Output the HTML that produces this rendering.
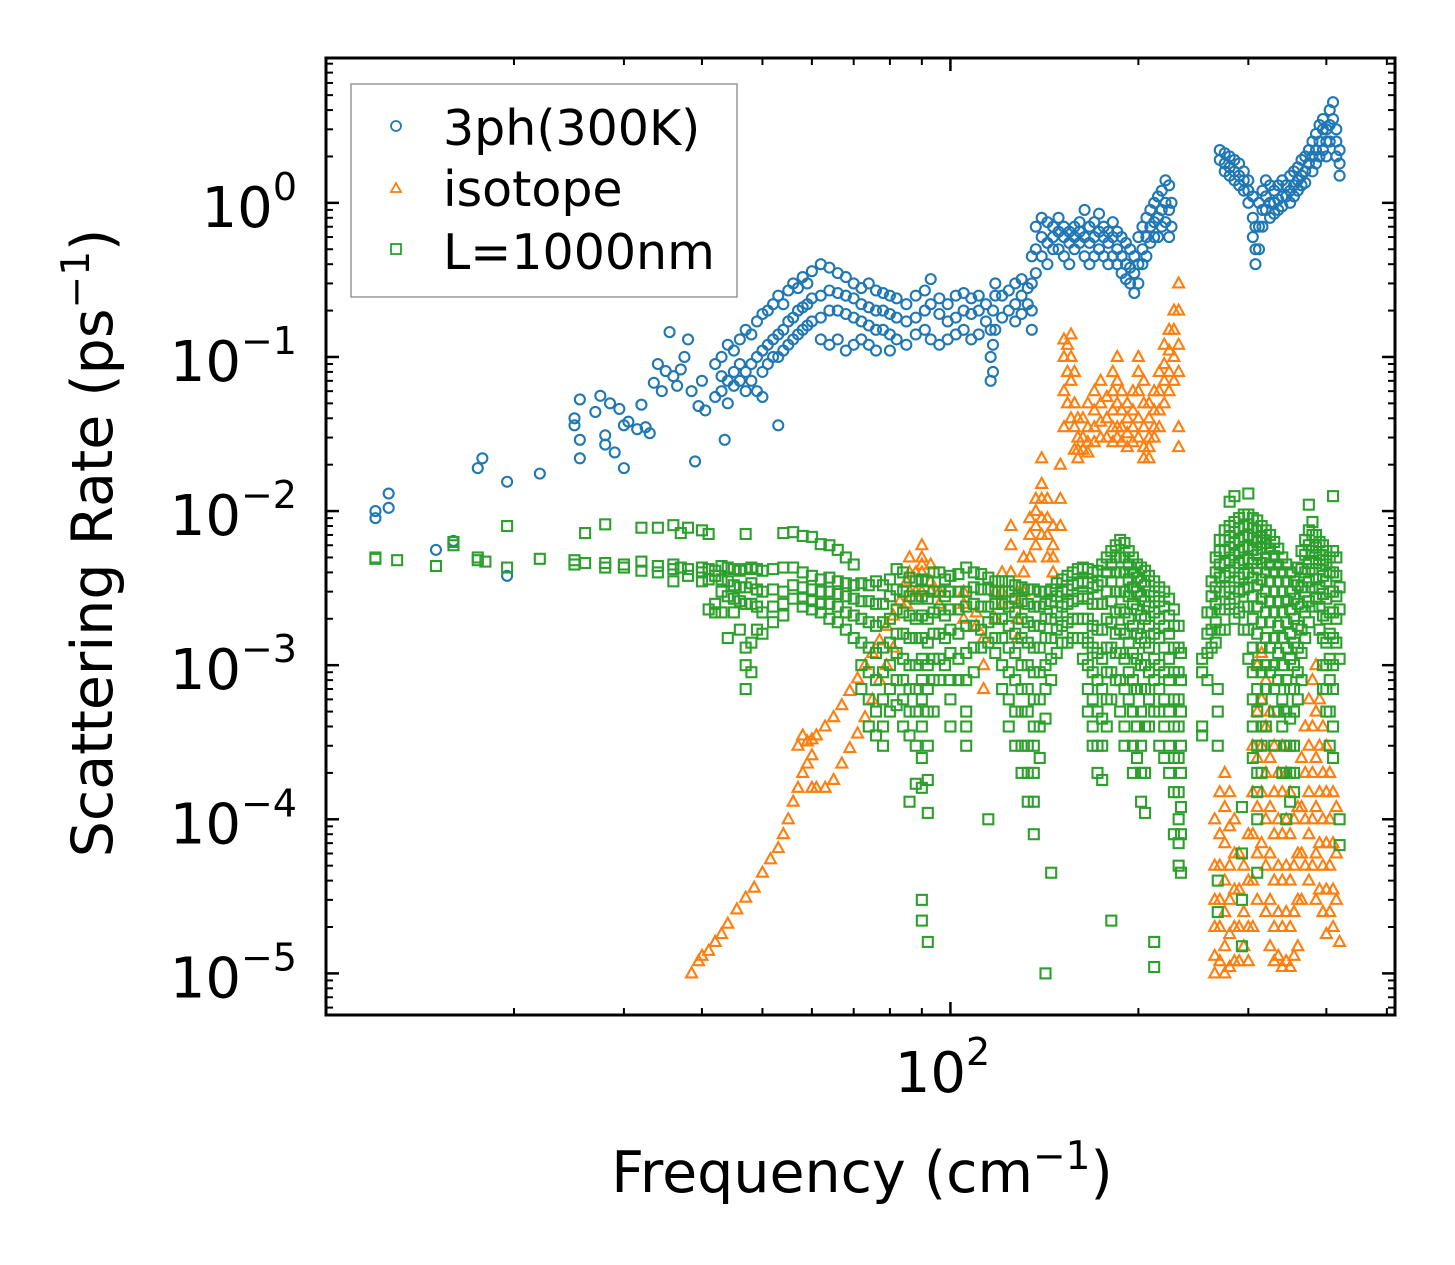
<!DOCTYPE html>
<html><head><meta charset="utf-8"><style>
html,body{margin:0;padding:0;background:#fff;}
svg{display:block;font-family:"DejaVu Sans","Liberation Sans",sans-serif;}
</style></head><body>
<svg id="chart" width="1455" height="1265" viewBox="0 0 1455 1265" xmlns="http://www.w3.org/2000/svg">
<rect width="1455" height="1265" fill="#fff"/>
<g id="marks"></g>
<g id="axes"></g>
<g id="legend">
<rect x="351" y="84" width="386" height="213" fill="#fff" fill-opacity="0.8" stroke="#999" stroke-width="1.5"/>
<circle cx="396" cy="126" r="5" fill="none" stroke="#1f77b4" stroke-width="1.8"/>
<text x="443" y="145" font-size="49">3ph(300K)</text>
<polygon points="396,183 391,192 401,192" fill="none" stroke="#ff7f0e" stroke-width="1.8"/>
<text x="443" y="206" font-size="49">isotope</text>
<rect x="391" y="244" width="10" height="10" fill="none" stroke="#2ca02c" stroke-width="1.8"/>
<text x="443" y="269" font-size="49">L=1000nm</text>
</g>
<text x="862" y="1192" font-size="57" text-anchor="middle">Frequency (cm<tspan dy="-23" font-size="39">−1</tspan><tspan dy="23">)</tspan></text>
<text transform="translate(112,543) rotate(-90)" font-size="57" text-anchor="middle">Scattering Rate (ps<tspan dy="-23" font-size="39">−1</tspan><tspan dy="23">)</tspan></text>
</svg>
<script>
const xTickMajor = [100];
const yTickMajor = [0, -1, -2, -3, -4, -5];
const xLogMin = 1.0, xLogMax = 2.712;
const yLogMin = -5.27, yLogMax = 0.94;

const blueData = [
[12,[0.010,0.009]],[12.6,[0.0105,0.013]],[15,[0.0056]],[16,[0.0064]],[17.5,[0.019]],[17.8,[0.022]],[19.5,[0.0155,0.0038]],[22,[0.0175]],
[25,[0.04,0.036]],[25.5,[0.053,0.022,0.029]],[27,[0.044]],[27.5,[0.056]],[28,[0.031,0.027]],[28.5,[0.05]],[29,[0.024]],[29.5,[0.046]],[30,[0.019,0.036]],[30.5,[0.038]],[31.5,[0.034]],[32,[0.049]],[32.5,[0.035]],[33,[0.032]],[33.5,[0.068]],[34,[0.09]],[34.5,[0.06]],[35,[0.081]],[35.5,[0.145]],[36,[0.075]],[36.5,[0.065]],[37,[0.083]],[37.5,[0.1]],[38,[0.13]],[38.5,[0.06]],[39,[0.021]],[39.5,[0.048]],[40,[0.07]],[40.5,[0.045]],[43.5,[0.029]],
[42,[0.055,0.09]],[43,[0.06,0.1,0.075]],[44,[0.07,0.12,0.05]],[45,[0.065,0.11,0.08]],[46,[0.07,0.13,0.09]],[47,[0.08,0.15,0.06]],[48,[0.09,0.14,0.07]],[49,[0.1,0.17,0.06]],[50,[0.11,0.19,0.08,0.055]],[51,[0.12,0.2,0.09]],[52,[0.13,0.22,0.1]],[53,[0.14,0.25,0.1,0.036]],[54,[0.15,0.22,0.11]],[55,[0.17,0.27,0.12]],[56,[0.18,0.3,0.13]],[57,[0.2,0.28,0.14]],[58,[0.21,0.33,0.15]],[59,[0.22,0.3,0.16]],[60,[0.24,0.36,0.17]],[62,[0.25,0.4,0.18,0.13]],[64,[0.27,0.38,0.2,0.12]],[66,[0.26,0.35,0.2,0.13]],[68,[0.25,0.33,0.19,0.11]],[70,[0.24,0.3,0.18,0.12]],[72,[0.22,0.28,0.17,0.13]],[74,[0.21,0.3,0.16,0.12]],[76,[0.2,0.27,0.15,0.11]],[78,[0.2,0.26,0.15]],[80,[0.19,0.25,0.14,0.11]],
[82,[0.18,0.24,0.13]],[85,[0.17,0.22,0.12]],[88,[0.18,0.25,0.14]],[91,[0.2,0.27,0.15]],[93,[0.22,0.32,0.13]],[96,[0.19,0.24,0.12]],[99,[0.17,0.22,0.13]],[102,[0.18,0.25,0.14]],[105,[0.2,0.26,0.15]],[108,[0.19,0.24,0.13]],[111,[0.2,0.25,0.14]],[114,[0.17,0.22]],
[116,[0.07,0.1,0.15]],[117,[0.08,0.12,0.2]],[118,[0.15,0.25,0.3]],[121,[0.18,0.25]],[124,[0.2,0.27]],[127,[0.22,0.3,0.17]],[130,[0.25,0.32,0.19]],[133,[0.28,0.22]],[135,[0.3,0.45,0.2,0.15]],[137,[0.5,0.7,0.35]],[140,[0.6,0.8,0.45]],[143,[0.55,0.75,0.4]],[146,[0.6,0.7,0.5]],[149,[0.65,0.8,0.5]],[152,[0.6,0.7,0.45]],[155,[0.55,0.65,0.4]],[158,[0.6,0.7,0.5]],[161,[0.65,0.75,0.55]],[164,[0.6,0.9,0.45]],[167,[0.55,0.7,0.4]],[170,[0.6,0.75,0.45]],[173,[0.65,0.85,0.5]],[176,[0.6,0.7,0.45]],[179,[0.55,0.65,0.4]],[182,[0.6,0.75,0.45]],[185,[0.5,0.65,0.4]],[188,[0.45,0.6,0.35]],[191,[0.4,0.55,0.32]],[194,[0.38,0.5,0.3]],[197,[0.35,0.45,0.26]],[200,[0.4,0.6,0.3]],[203,[0.5,0.7,0.4]],[206,[0.6,0.8,0.45]],[209,[0.7,0.9,0.55]],[212,[0.75,1.0,0.6]],[215,[0.8,1.1,0.6]],[218,[0.9,1.2,0.7]],[221,[1.0,1.4,0.75]],[224,[0.9,1.3,0.6]],[226,[0.7,1.0]],
[270,[2.2,1.9]],[275,[2.1,1.8,1.6]],[280,[2.0,1.7,1.5]],[285,[1.9,1.6,1.4]],[290,[1.8,1.5,1.3]],[295,[1.6,1.4,1.2]],[300,[1.4,1.2,1.0]],[305,[1.1,0.8,0.6]],[308,[0.7,0.5,0.4]],[312,[1.0,0.7,0.5]],[316,[1.2,0.9,0.7]],[320,[1.4,1.1,0.9]],[325,[1.3,1.0,0.8]],[330,[1.2,1.0,0.85]],[335,[1.3,1.05,0.9]],[340,[1.4,1.1,0.95]],[345,[1.3,1.1]],[350,[1.5,1.2,1.0]],[355,[1.6,1.3,1.1]],[360,[1.7,1.4,1.2]],[365,[1.9,1.5,1.3]],[370,[2.0,1.6,1.35]],[375,[2.2,1.8]],[380,[2.5,2.0,1.6]],[385,[2.8,2.2,1.8]],[390,[3.2,2.5,2.0]],[395,[3.5,3.0,2.2]],[400,[3.0,2.5,2.0]],[405,[4.0,3.2,2.5]],[410,[4.5,3.5]],[415,[3.0,2.5,2.0]],[420,[2.2,1.8,1.5]]
];

const orangeData = [
[38.5,[1.0e-5]],[39.5,[1.2e-5]],[40,[1.3e-5]],[41,[1.4e-5]],[42,[1.6e-5]],[43,[1.8e-5]],[44,[2.1e-5]],[45.5,[2.6e-5]],[47,[3.1e-5]],[48.5,[3.6e-5]],[50,[4.5e-5]],[51.5,[5.5e-5]],[53,[6.5e-5]],[54,[8e-5]],[55,[1.0e-4]],[56,[1.3e-4]],[57,[1.6e-4,3e-4]],[58,[2.0e-4,3.5e-4]],[59,[2.3e-4,3.2e-4]],[60,[2.6e-4,3.3e-4,1.6e-4]],[61,[1.6e-4,3.5e-4]],[63,[1.6e-4,4.0e-4]],[65,[1.8e-4,4.6e-4]],[67,[2.3e-4,5.5e-4]],[69,[2.9e-4,6.8e-4]],[71,[3.6e-4,8.2e-4]],[73,[4.6e-4,1.0e-3]],[75,[6e-4,1.2e-3]],[77,[8e-4,1.45e-3]],[79,[1.0e-3,1.8e-3]],[81,[1.3e-3,2.1e-3]],[83,[2.6e-3]],[85,[3.5e-3,2.5e-3]],
[86,[0.005,0.004,0.003]],[88,[0.004,0.003]],[90,[0.006,0.005,0.0045,0.004,0.003]],[93,[0.0045,0.0035,0.003]],[96,[0.003,0.0025]],[105,[0.003,0.0025,0.002]],[110,[0.0022,0.0018]],[113,[0.0015,0.001,0.0007]],[118,[0.002,0.003]],[121,[0.004,0.003,0.0025]],[125,[0.008,0.006,0.004]],[128,[0.003,0.0025,0.002,0.0015]],[131,[0.005,0.004,0.003]],[134,[0.009,0.007,0.005]],[137,[0.012,0.01,0.008,0.006]],[140,[0.022,0.015,0.012,0.009,0.007]],[143,[0.012,0.009,0.007,0.005]],[146,[0.008,0.006,0.005,0.004]],
[150,[0.02,0.012,0.008]],[152,[0.035,0.06,0.1,0.13]],[154,[0.05,0.08,0.12]],[156,[0.1,0.14,0.07,0.04]],[158,[0.08,0.05,0.035,0.025]],[160,[0.04,0.03,0.025,0.022]],[163,[0.04,0.03,0.025]],[166,[0.05,0.035,0.028,0.024]],[170,[0.06,0.045,0.035,0.028]],[174,[0.07,0.05,0.038,0.03]],[178,[0.055,0.04,0.03]],[182,[0.08,0.06,0.045,0.035,0.028]],[185,[0.1,0.07,0.05,0.035,0.03]],[188,[0.06,0.045,0.035,0.028]],[192,[0.05,0.04,0.032,0.026]],[196,[0.06,0.045,0.035,0.028]],[200,[0.1,0.08,0.06,0.04,0.03]],[204,[0.07,0.05,0.035,0.026,0.022]],[208,[0.05,0.04,0.03,0.026,0.022]],[212,[0.06,0.045,0.035,0.03]],[216,[0.08,0.06,0.045,0.035]],[220,[0.12,0.09,0.07,0.05]],[224,[0.15,0.11,0.08,0.06]],[228,[0.2,0.15,0.1,0.07]],[232,[0.3,0.2,0.12,0.08,0.035,0.026]],
[265,[1e-4,5e-5,3e-5,2e-5,1.3e-5,1e-5]],[270,[1.5e-4,8e-5,5e-5,3e-5,2e-5,1.2e-5]],[275,[2e-4,1.2e-4,7e-5,4e-5,2.5e-5,1.5e-5,1e-5]],[280,[1.5e-4,9e-5,5e-5,3e-5,1.8e-5,1.1e-5]],[285,[1e-4,6e-5,3.5e-5,2e-5,1.2e-5]],[290,[6e-5,3.5e-5,2e-5,1.2e-5]],[295,[5e-5,2.5e-5,1.5e-5]],[300,[8e-5,4e-5,2e-5,1.2e-5]],[305,[3e-4,1.5e-4,8e-5,4e-5,2e-5]],[310,[1e-3,5e-4,2.5e-4,1.2e-4,6e-5,3e-5]],[315,[1.2e-3,6e-4,3e-4,1.5e-4,7e-5]],[320,[8e-4,4e-4,2e-4,1e-4,5e-5,2.5e-5]],[325,[5e-4,2.5e-4,1.2e-4,6e-5,3e-5,1.5e-5]],[330,[3e-4,1.5e-4,8e-5,4e-5,2e-5,1.2e-5]],[335,[2e-4,1e-4,5e-5,2.5e-5,1.3e-5]],[340,[3e-4,1.5e-4,8e-5,4e-5,2e-5,1.1e-5]],[345,[2e-4,1e-4,5e-5,2.5e-5,1.2e-5]],[350,[1.5e-4,8e-5,4e-5,2e-5,1.1e-5]],[355,[1e-4,5e-5,2.5e-5,1.3e-5]],[360,[1.2e-4,6e-5,3e-5,1.5e-5]],[365,[2.5e-4,1.2e-4,6e-5,3e-5]],[370,[4e-4,2e-4,1e-4,5e-5]],[375,[6e-4,3e-4,1.5e-4,8e-5,4e-5]],[380,[8e-4,4e-4,2e-4,1e-4,5e-5]],[385,[1e-3,5e-4,2.5e-4,1.2e-4,6e-5,3e-5]],[390,[6e-4,3e-4,1.5e-4,7e-5,3.5e-5]],[395,[4e-4,2e-4,1e-4,5e-5,2.5e-5]],[400,[3e-4,1.5e-4,7e-5,3.5e-5,1.8e-5]],[405,[2e-4,1e-4,5e-5,2.5e-5]],[410,[1.5e-4,7e-5,3.5e-5,2e-5]],[415,[1.2e-4,6e-5,3e-5]],[420,[1.6e-5]]
];

const greenData = [
[12,[0.005,0.0049]],[13,[0.0048]],[15,[0.0044]],[16,[0.0063,0.006]],[17.5,[0.005,0.0048]],[18,[0.0047]],[19.5,[0.008,0.0043]],[22,[0.0049]],[25,[0.0048,0.0045]],[26,[0.0072,0.0046]],[28,[0.0082,0.0046,0.0043]],[30,[0.0045,0.0043]],[32,[0.0078,0.0047,0.0041]],[34,[0.0078,0.0044,0.004]],[36,[0.0081,0.0045,0.0042,0.0035]],[37,[0.0072,0.0043]],[38,[0.0078,0.0042,0.0038]],[40,[0.0075,0.0043,0.004,0.0035]],[41,[0.0071,0.0042,0.0036,0.0023]],[42,[0.0041,0.0038,0.0025,0.0022]],[43,[0.0044,0.0036,0.003,0.0022]],[44,[0.0043,0.0035,0.0028,0.0015]],[45,[0.0042,0.0033,0.0027,0.0022]],[46,[0.0041,0.0032,0.0026,0.0017]],[47,[0.0071,0.0042,0.0032,0.0025,0.0013,0.001,0.0007]],[48,[0.0043,0.0034,0.0025,0.0014,0.0009]],[49,[0.0042,0.0031,0.0024,0.0017]],[50,[0.0041,0.003,0.0022,0.0016]],[52,[0.0042,0.0031,0.0024,0.0019]],[54,[0.0072,0.0043,0.003,0.0025,0.0021]],[56,[0.0073,0.0043,0.0033,0.0027]],[58,[0.0069,0.004,0.0032,0.0027,0.0024]],[60,[0.0068,0.0038,0.0031,0.0026,0.0023]],[62,[0.0061,0.0036,0.003,0.0025,0.0022]],[64,[0.006,0.0037,0.003,0.0025,0.002]],[66,[0.0056,0.0035,0.0029,0.0024,0.0019]],[68,[0.005,0.0034,0.0028,0.0022,0.0017]],[70,[0.0045,0.0033,0.0027,0.0021,0.0015]],[72,[0.0034,0.0026,0.002,0.0014,0.001,0.0007]],[74,[0.0033,0.0026,0.0019,0.0013,0.0009,0.0006,0.0004]],[76,[0.0035,0.0025,0.0018,0.0012,0.0008,0.0005,0.00035]],[78,[0.0033,0.0025,0.0019,0.0013,0.0009,0.0006,0.0004,0.0003]],[80,[0.0036,0.0028,0.002,0.0014,0.001,0.0007,0.0005]],[82,[0.0042,0.0031,0.0023,0.0016,0.0012,0.0008,0.00055]],[84,[0.004,0.003,0.0022,0.0016,0.0011,0.0008,0.0006,0.0004]],[86,[0.0037,0.0028,0.0021,0.0015,0.001,0.0007,0.0005,0.00035,0.00013]],[88,[0.0035,0.0027,0.002,0.0015,0.001,0.0007,0.0005,0.0003,0.00017]],[90,[0.0036,0.0028,0.0021,0.0015,0.0011,0.0008,0.0006,0.0004,0.00025,0.00016,3e-5,2.2e-5]],[92,[0.0035,0.0027,0.002,0.0014,0.001,0.0007,0.0005,0.0003,0.00018,0.00011,1.6e-5]],[94,[0.004,0.003,0.0022,0.0016,0.0011,0.0008,0.0005]],[96,[0.004,0.003,0.0023,0.0016,0.0011,0.0008]],[98,[0.0036,0.0028,0.0021,0.0015,0.001]],[100,[0.0038,0.003,0.0023,0.0017,0.0012,0.0008,0.0006,0.0004]],[103,[0.0039,0.003,0.0023,0.0016,0.0011,0.0008]],[106,[0.0043,0.003,0.0024,0.0018,0.0012,0.0008,0.0005,0.0004,0.0003]],[109,[0.004,0.0032,0.0025,0.0018,0.0013,0.0009]],[112,[0.0039,0.0031,0.0024,0.0017,0.0013]],[115,[0.0037,0.0031,0.0024,0.0019,0.0014,0.0001]],[118,[0.0035,0.003,0.0025,0.002,0.0015,0.0012]],[121,[0.0035,0.003,0.0025,0.002,0.0015,0.001,0.0007]],[124,[0.0035,0.003,0.0024,0.0018,0.0013,0.0009,0.0006,0.0004]],[127,[0.0033,0.0027,0.0022,0.0016,0.0012,0.0008,0.0005,0.0003]],[130,[0.0032,0.0026,0.002,0.0015,0.001,0.0007,0.0005,0.0003,0.0002]],[133,[0.0031,0.0025,0.0019,0.0014,0.001,0.0007,0.0005,0.0003,0.0002,0.00013]],[136,[0.0031,0.0024,0.0018,0.0013,0.0009,0.0006,0.0004,0.0003,0.0002,0.00013,8e-5]],[139,[0.003,0.0024,0.0018,0.0013,0.0009,0.0006,0.0004,0.00025]],[142,[0.003,0.0025,0.002,0.0015,0.001,0.0007,0.00045,1e-5]],[145,[0.0031,0.0026,0.002,0.0015,0.0011,0.0008,4.5e-5]],[148,[0.0034,0.0028,0.0022,0.0017,0.0012]],[151,[0.0036,0.003,0.0024,0.0018,0.0014]],[154,[0.0038,0.0031,0.0025,0.0019,0.0014]],[157,[0.004,0.0033,0.0026,0.002,0.0015]],[160,[0.0042,0.0034,0.0027,0.002,0.0015]],[163,[0.0043,0.0035,0.0028,0.002,0.0015,0.0011]],[166,[0.0042,0.0034,0.0027,0.002,0.0014,0.001,0.0007,0.0005]],[169,[0.004,0.0032,0.0025,0.0018,0.0013,0.0009,0.0006,0.0004,0.0003]],[172,[0.0041,0.0033,0.0025,0.0017,0.0012,0.0008,0.0005,0.0003,0.0002]],[175,[0.0045,0.0035,0.0025,0.0017,0.0011,0.0007,0.00045,0.0003,0.00018]],[178,[0.005,0.004,0.003,0.002,0.0013,0.0009,0.0006,0.0004]],[181,[0.0055,0.0045,0.0035,0.0026,0.0019,0.0013,0.0009,0.0006,2.2e-5]],[184,[0.006,0.005,0.004,0.003,0.0022,0.0016,0.0012,0.0008]],[187,[0.0065,0.005,0.004,0.003,0.0023,0.0017,0.0012,0.0008,0.0005]],[190,[0.0062,0.005,0.004,0.003,0.0022,0.0016,0.0011,0.0007,0.0004,0.0003]],[193,[0.0055,0.0045,0.0036,0.0028,0.002,0.0014,0.0009,0.0006]],[196,[0.005,0.004,0.0032,0.0025,0.0018,0.0012,0.0008,0.0005,0.0003,0.0002]],[199,[0.0045,0.0037,0.003,0.0023,0.0016,0.0011,0.0007,0.0004,0.00025]],[202,[0.0043,0.0035,0.0028,0.0021,0.0015,0.001,0.0007,0.0005,0.0003,0.0002,0.00013]],[205,[0.0041,0.0033,0.0026,0.002,0.0014,0.001,0.0007,0.0004,0.0002,0.00011]],[208,[0.0038,0.003,0.0024,0.0018,0.0013,0.0009,0.0006,0.0004]],[212,[0.0035,0.0028,0.0022,0.0016,0.0011,0.0008,0.0005,1.6e-5,1.1e-5]],[216,[0.0032,0.0026,0.002,0.0015,0.001,0.0007,0.0005,0.0003]],[220,[0.003,0.0024,0.0018,0.0013,0.0009,0.0006,0.0004,0.00025]],[224,[0.0027,0.0021,0.0016,0.0011,0.0008,0.0005,0.0003,0.0002]],[228,[0.0023,0.0018,0.0013,0.0009,0.0006,0.0004,0.00025,0.00015,8e-5]],[232,[0.0018,0.0013,0.0009,0.0006,0.0004,0.00025,0.00015,0.0001,7e-5,5e-5]],[234,[0.0012,0.0008,0.0005,0.0003,0.0002,0.00012,0.00008,4.5e-5]],
[253,[0.0011,0.0009,0.0004,0.00035]],[258,[0.0022,0.0016,0.0012,0.0008]],[262,[0.0035,0.0028,0.0022,0.0017,0.0013]],[266,[0.005,0.004,0.0032,0.0025,0.0019,0.0014]],[268,[0.0007,0.0005,0.0003,4e-5,2.5e-5]],[270,[0.0065,0.0055,0.0045,0.0037,0.003,0.0023,0.0017]],[275,[0.0075,0.0065,0.0055,0.0046,0.0038,0.003,0.0023,0.0017]],[280,[0.0115,0.008,0.0068,0.0058,0.0048,0.004,0.0032,0.0025]],[285,[0.0125,0.0085,0.0073,0.0062,0.0052,0.0043,0.0035,0.0027,0.002]],[290,[0.009,0.0077,0.0065,0.0055,0.0046,0.0037,0.003,0.0022]],[293,[0.00012,6e-5,3e-5,1.5e-5]],[295,[0.0095,0.008,0.0068,0.0058,0.0048,0.0039,0.0031,0.0024,0.0017]],[300,[0.013,0.0095,0.0082,0.007,0.0059,0.0049,0.004,0.0032,0.0024,0.0017,0.0011]],[305,[0.009,0.0078,0.0067,0.0056,0.0046,0.0037,0.0028,0.002,0.0013,0.0009,0.0006,0.0004,0.00025]],[310,[0.0087,0.0075,0.0063,0.0052,0.0042,0.0033,0.0024,0.0016,0.001,0.0007,0.0005,0.0003,0.0002,0.00015,0.0001,4.5e-5]],[315,[0.008,0.0068,0.0057,0.0046,0.0036,0.0027,0.0019,0.0013,0.0009,0.0006,0.0004,0.0003,0.0002]],[320,[0.0075,0.0062,0.005,0.004,0.003,0.0022,0.0015,0.001,0.0007,0.0004]],[325,[0.007,0.0057,0.0045,0.0035,0.0026,0.0019,0.0013,0.0009]],[330,[0.0063,0.0051,0.004,0.003,0.0022,0.0015,0.001,0.0007,0.0005,0.0003]],[335,[0.0057,0.0045,0.0035,0.0026,0.0018,0.0012,0.0008,0.0005]],[340,[0.005,0.004,0.003,0.0022,0.0015,0.001,0.0006,0.0004,0.0002]],[345,[0.0045,0.0035,0.0026,0.0019,0.0013,0.0008,0.0005,0.0003,0.0002,0.0001]],[350,[0.004,0.003,0.0023,0.0016,0.0011,0.0007,0.00045,0.0003,0.0002,0.00013]],[355,[0.0035,0.0027,0.002,0.0014,0.001,0.0007,0.0005,0.0003,0.0002,0.00015]],[360,[0.0043,0.0033,0.0025,0.0018,0.0013,0.0009,0.0006]],[365,[0.0055,0.0042,0.0032,0.0024,0.0017,0.0012,0.0008]],[370,[0.0065,0.0052,0.004,0.003,0.0022,0.0015]],[375,[0.011,0.0075,0.006,0.0046,0.0035,0.0026,0.0019]],[380,[0.0085,0.007,0.0055,0.0042,0.0032,0.0024]],[385,[0.007,0.0058,0.0046,0.0036,0.0027]],[390,[0.0063,0.0052,0.0042,0.0032,0.0024,0.0017]],[395,[0.006,0.0048,0.0038,0.0029,0.0021,0.0015,0.001,0.0007]],[400,[0.0055,0.0045,0.0035,0.0027,0.002,0.0014,0.001,0.0007,0.0005]],[405,[0.005,0.004,0.003,0.0022,0.0016,0.0011,0.0008,0.0005,0.0003]],[410,[0.0125,0.0055,0.004,0.003,0.0022,0.0015,0.001,0.0007,0.0004,0.00025]],[415,[0.005,0.0038,0.0028,0.002,0.0014]],[420,[0.0032,0.0023,0.0011,0.0001,6.8e-5]]
];

const NS = 'http://www.w3.org/2000/svg';
const L = 326, R = 1395, T = 58, B = 1015;
function xPos(f){ return L + (Math.log10(f) - xLogMin) / (xLogMax - xLogMin) * (R - L); }
function yPos(v){ return B - (Math.log10(v) - yLogMin) / (yLogMax - yLogMin) * (B - T); }
function mk(tag, attrs){ const e = document.createElementNS(NS, tag); for (const k in attrs) e.setAttribute(k, attrs[k]); return e; }

const marks = document.getElementById('marks');
function drawSeries(data, kind, color, name){
  const g = mk('g', {fill:'none', stroke:color, 'stroke-width':'2.1'});
  
  
  data.forEach(([f, vals]) => {
    vals.forEach(v => {
      const x = xPos(f), y = yPos(v);
      let e;
      if (kind === 'circle') e = mk('circle', {cx:x, cy:y, r:5});
      else if (kind === 'tri') e = mk('polygon', {points:`${x},${y-6} ${x-5.5},${y+4} ${x+5.5},${y+4}`});
      else e = mk('rect', {x:x-5, y:y-5, width:10, height:10});
      
      
      g.appendChild(e);
    });
  });
  marks.appendChild(g);
}
drawSeries(blueData, 'circle', '#1f77b4', 'series-3ph');
drawSeries(orangeData, 'tri', '#ff7f0e', 'series-isotope');
drawSeries(greenData, 'square', '#2ca02c', 'series-boundary');

const axes = document.getElementById('axes');
function line(x1,y1,x2,y2,w,name){
  const e = mk('line', {x1, y1, x2, y2, stroke:'#000', 'stroke-width':w});
  
  
  axes.appendChild(e);
}
for (let d = -6; d <= 1; d++) {
  for (let m = 1; m <= 9; m++) {
    const v = m * Math.pow(10, d);
    const lv = Math.log10(v);
    if (lv < yLogMin || lv > yLogMax) continue;
    const y = yPos(v); const len = m === 1 ? 13 : 7; const w = m === 1 ? 2.5 : 2;
    line(L, y, L + len, y, w, m === 1 ? 'y-major-tick' : 'y-minor-tick');
    line(R, y, R - len, y, w, m === 1 ? 'y-major-tick-right' : 'y-minor-tick-right');
  }
}
yTickMajor.forEach(p => {
  const y = yPos(Math.pow(10, p));
  const t = mk('text', {x: 297, y: y + 24, 'font-size': 56, 'text-anchor': 'end'});
  
  
  t.innerHTML = '10<tspan dy="-27" font-size="38">' + (p === 0 ? '0' : '−' + (-p)) + '</tspan>';
  axes.appendChild(t);
});
for (let d = 1; d <= 2; d++) {
  for (let m = 1; m <= 9; m++) {
    const f = m * Math.pow(10, d);
    const lf = Math.log10(f);
    if (lf <= xLogMin + 0.001 || lf > xLogMax) continue;
    const x = xPos(f); const len = m === 1 ? 13 : 7; const w = m === 1 ? 2.5 : 2;
    line(x, B, x, B - len, w, m === 1 ? 'x-major-tick' : 'x-minor-tick');
    line(x, T, x, T + len, w, m === 1 ? 'x-major-tick-top' : 'x-minor-tick-top');
  }
}
xTickMajor.forEach(f => {
  const x = xPos(f);
  const t = mk('text', {x: x - 8, y: 1092, 'font-size': 56, 'text-anchor': 'middle'});
  
  
  t.innerHTML = '10<tspan dy="-27" font-size="38">' + Math.log10(f) + '</tspan>';
  axes.appendChild(t);
});
const frame = mk('rect', {x:L, y:T, width:R-L, height:B-T, fill:'none', stroke:'#000', 'stroke-width':3});


axes.appendChild(frame);
</script>
</body></html>
